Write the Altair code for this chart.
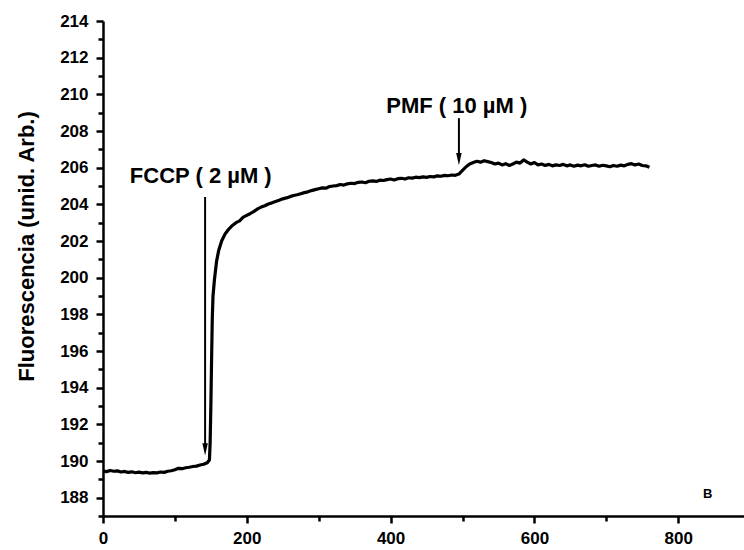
import altair as alt
import pandas as pd

# Time (s) and fluorescence (arb. units)
time_s = [0, 5, 10, 15, 20, 25, 30, 35, 40, 45, 50, 55, 60, 65, 70, 75, 80, 85, 90, 95,
          100, 105, 110, 115, 120, 125, 130, 135, 140, 145, 148, 149, 150, 151, 152, 153, 155,
          158, 161, 165, 170, 175, 180, 185, 190, 195, 200, 205, 210, 215, 220, 225, 230,
          235, 240, 245, 250, 255, 260, 265, 270, 275, 280, 285, 290, 295, 300, 305, 310,
          315, 320, 325, 330, 335, 340, 345, 350, 355, 360, 365, 370, 375, 380, 385, 390,
          395, 400, 405, 410, 415, 420, 425, 430, 435, 440, 445, 450, 455, 460, 465, 470,
          475, 480, 485, 490, 495, 500, 505, 510, 515, 520, 525, 530, 535, 540, 545, 550,
          555, 560, 565, 570, 575, 580, 585, 590, 595, 600, 605, 610, 615, 620, 625, 630,
          635, 640, 645, 650, 655, 660, 665, 670, 675, 680, 685, 690, 695, 700, 705, 710,
          715, 720, 725, 730, 735, 740, 745, 750, 755, 760]
fluor = [189.45, 189.42, 189.48, 189.44, 189.46, 189.40, 189.43, 189.38, 189.41, 189.36,
         189.39, 189.35, 189.38, 189.34, 189.37, 189.35, 189.40, 189.38, 189.44, 189.47,
         189.52, 189.60, 189.58, 189.63, 189.66, 189.70, 189.72, 189.78, 189.82, 189.90,
         190.05, 191.0, 193.0, 195.5, 197.8, 199.0, 199.9,
         200.9, 201.5, 202.0, 202.4, 202.65, 202.85, 203.0, 203.1, 203.3, 203.4, 203.5,
         203.62, 203.75, 203.85, 203.92, 204.02, 204.08, 204.15, 204.22, 204.3, 204.35,
         204.42, 204.48, 204.52, 204.58, 204.64, 204.68, 204.75, 204.8, 204.85, 204.9,
         204.88, 204.97, 205.0, 205.02, 205.08, 205.05, 205.12, 205.15, 205.13, 205.2,
         205.22, 205.18, 205.26, 205.28, 205.25, 205.32, 205.3, 205.35, 205.38, 205.33,
         205.4, 205.42, 205.38, 205.45, 205.43, 205.48, 205.46, 205.5, 205.47, 205.52,
         205.5, 205.55, 205.53, 205.58, 205.56, 205.6, 205.58, 205.65, 205.85, 206.05,
         206.2, 206.28, 206.35, 206.3, 206.38, 206.33, 206.28, 206.2, 206.25, 206.15,
         206.22, 206.12, 206.2, 206.3, 206.25, 206.42, 206.3, 206.2, 206.28, 206.15,
         206.2, 206.12, 206.18, 206.1, 206.15, 206.12, 206.18, 206.1, 206.15, 206.08,
         206.14, 206.1, 206.16, 206.08, 206.12, 206.15, 206.08, 206.13, 206.1, 206.05,
         206.12, 206.08, 206.14, 206.1, 206.18, 206.22, 206.15, 206.2, 206.12, 206.1,
         206.02]

# Annotations (data coordinates)
ann_text = ["FCCP ( 2 µM )", "PMF ( 10 µM )"]
ann_text_x = [136, 492]
ann_text_y = [205.16, 208.98]
arrow_x = [142, 495]
arrow_top = [204.4, 208.7]
arrow_head = [190.63, 206.47]

panel_label = ["B"]
panel_x = [841]
panel_y = [188.2]

x_ticks = [0, 100, 200, 300, 400, 500, 600, 700, 800]
y_ticks = [187, 188, 189, 190, 191, 192, 193, 194, 195, 196, 197, 198, 199, 200, 201,
           202, 203, 204, 205, 206, 207, 208, 209, 210, 211, 212, 213, 214]

FONT = "Liberation Sans"

df = pd.DataFrame({"t": time_s, "f": fluor})
ann = pd.DataFrame({"label": ann_text, "tx": ann_text_x, "ty": ann_text_y,
                    "ax": arrow_x, "atop": arrow_top, "ahead": arrow_head})
pl = pd.DataFrame({"label": panel_label, "x": panel_x, "y": panel_y})

xscale = alt.Scale(domain=[0, 891.5], nice=False, zero=False)
yscale = alt.Scale(domain=[187, 214], nice=False, zero=False)

xaxis = alt.Axis(
    values=x_ticks, title=None, grid=False,
    labelExpr="datum.value % 200 === 0 ? datum.label : ''",
    labelOverlap=False,
    labelFont=FONT, labelFontSize=17, labelFontWeight="bold", labelColor="black",
    labelPadding=7, labelFlush=False,
    domainColor="black", domainWidth=2.5, tickColor="black", tickWidth=2.5,
    tickSize={"condition": {"test": "datum.value % 200 === 0", "value": 7}, "value": 5},
)
yaxis = alt.Axis(
    values=y_ticks, grid=False,
    labelExpr="(datum.value % 2 === 0 && datum.value > 187) ? datum.label : ''",
    labelOverlap=False, labelBound=False, labelFlush=False,
    labelFont=FONT, labelFontSize=17, labelFontWeight="bold", labelColor="black",
    labelPadding=8,
    domainColor="black", domainWidth=2.5, tickColor="black", tickWidth=2.5,
    tickSize={"condition": {"test": "datum.value % 2 === 0", "value": 7}, "value": 5},
    title="Fluorescencia (unid. Arb.)", titleFont=FONT, titleFontSize=22,
    titleFontWeight="bold", titleColor="black", titleAngle=270,
    titleX=-77, titleY=225, titleAlign="center", titleBaseline="middle",
)


def X(field):
    return alt.X(field, type="quantitative", scale=xscale, axis=xaxis)


def Y(field):
    return alt.Y(field, type="quantitative", scale=yscale, axis=yaxis)


line = alt.Chart(df).mark_line(color="black", strokeWidth=3.2, strokeJoin="round").encode(
    x=X("t"), y=Y("f"),
)
arrows = alt.Chart(ann).mark_rule(color="black", strokeWidth=2).encode(
    x=X("ax"), y=Y("atop"), y2="ahead:Q"
)
heads = alt.Chart(ann).mark_point(
    shape="M-0.45,-1L0.45,-1L0,1Z", filled=True, color="black", opacity=1, size=150
).encode(x=X("ax"), y=Y("ahead"))
texts = alt.Chart(ann).mark_text(
    font=FONT, fontSize=22, fontWeight="bold", color="black", align="center", baseline="alphabetic"
).encode(x=X("tx"), y=Y("ty"), text="label:N")
panel = alt.Chart(pl).mark_text(
    font=FONT, fontSize=13, fontWeight="bold", color="black", align="center", baseline="middle"
).encode(x=X("x"), y=Y("y"), text="label:N")

chart = alt.layer(line, arrows, heads, texts, panel).properties(
    width=641, height=495,
    autosize=alt.AutoSizeParams(type="none"),
    padding={"left": 103, "top": 21, "right": 0, "bottom": 34},
    background="white",
).configure_view(stroke=None)

chart.save("out.html", embed_options={"renderer": "svg", "actions": False})
